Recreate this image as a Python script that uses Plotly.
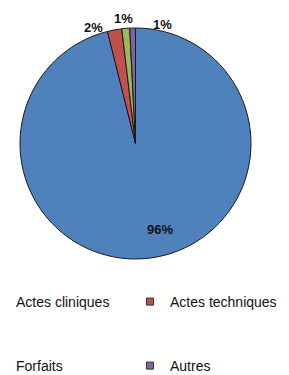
import math
import plotly.graph_objects as go

categories = ["Actes cliniques", "Actes techniques", "Forfaits", "Autres"]
values = [96.1, 2.0, 1.1, 0.8]
colors = ["#4F81BD", "#C0504D", "#9BBB59", "#8064A2"]

W, H = 289, 375
OFF = 8  # the page body margin shifts the figure by this many pixels
cx, cy, r = 135.5 - OFF, 143.5 - OFF, 115.5
FONT = "Liberation Sans, Arial, sans-serif"

fig = go.Figure()
fig.add_trace(go.Pie(
    labels=categories, values=values, sort=False, direction="clockwise", rotation=0,
    marker=dict(colors=colors, line=dict(color="#1a1a1a", width=1)),
    textinfo="none", textposition="none",
    domain=dict(x=[(cx - r) / W, (cx + r) / W], y=[1 - (cy + r) / H, 1 - (cy - r) / H]),
    showlegend=False, hoverinfo="label+percent",
))

# percentage labels, placed from each slice's mid angle
label_style = [  # radial factor, xanchor, yanchor, xshift, yshift
    (0.75, "center", "middle", 14, 0),
    (1.02, "right", "middle", -9, 0),
    (1.02, "center", "bottom", -2, -2),
    (1.02, "left", "middle", 18, 1),
]
total = sum(values)
cum = 0.0
for v, (rf, xa, ya, xs, ys) in zip(values, label_style):
    mid = math.radians((cum + v / 2) / total * 360)
    cum += v
    px = cx + rf * r * math.sin(mid)
    py = cy - rf * r * math.cos(mid)
    fig.add_annotation(
        x=px / W, y=1 - py / H, xref="paper", yref="paper",
        text=f"<b>{round(v / total * 100):.0f}%</b>", showarrow=False,
        xanchor=xa, yanchor=ya, xshift=xs, yshift=ys,
        font=dict(family=FONT, size=13, color="#111111"),
    )

# legend: one legend box per entry (2 columns x 2 rows)
legend_ids = ["legend", "legend2", "legend3", "legend4"]
for name, col, lg in zip(categories, colors, legend_ids):
    fig.add_trace(go.Scatter(
        x=[None], y=[None], mode="markers", name=name, legend=lg,
        marker=dict(symbol="square", size=7, color=col, line=dict(color="#333333", width=1)),
        showlegend=True,
    ))

def leg(xpx, ypx):
    return dict(orientation="h", xref="paper", yref="paper",
                x=(xpx - OFF) / W, y=1 - (ypx - OFF) / H,
                xanchor="left", yanchor="middle",
                font=dict(family=FONT, size=14, color="#111111"),
                bgcolor="rgba(0,0,0,0)")

fig.update_layout(
    width=W, height=H, margin=dict(l=0, r=0, t=0, b=0, autoexpand=False),
    paper_bgcolor="white", plot_bgcolor="white",
    xaxis=dict(visible=False), yaxis=dict(visible=False),
    legend=leg(-24, 302), legend2=leg(130, 302),
    legend3=leg(-24, 366), legend4=leg(130, 366),
)
fig.write_html("out.html")
